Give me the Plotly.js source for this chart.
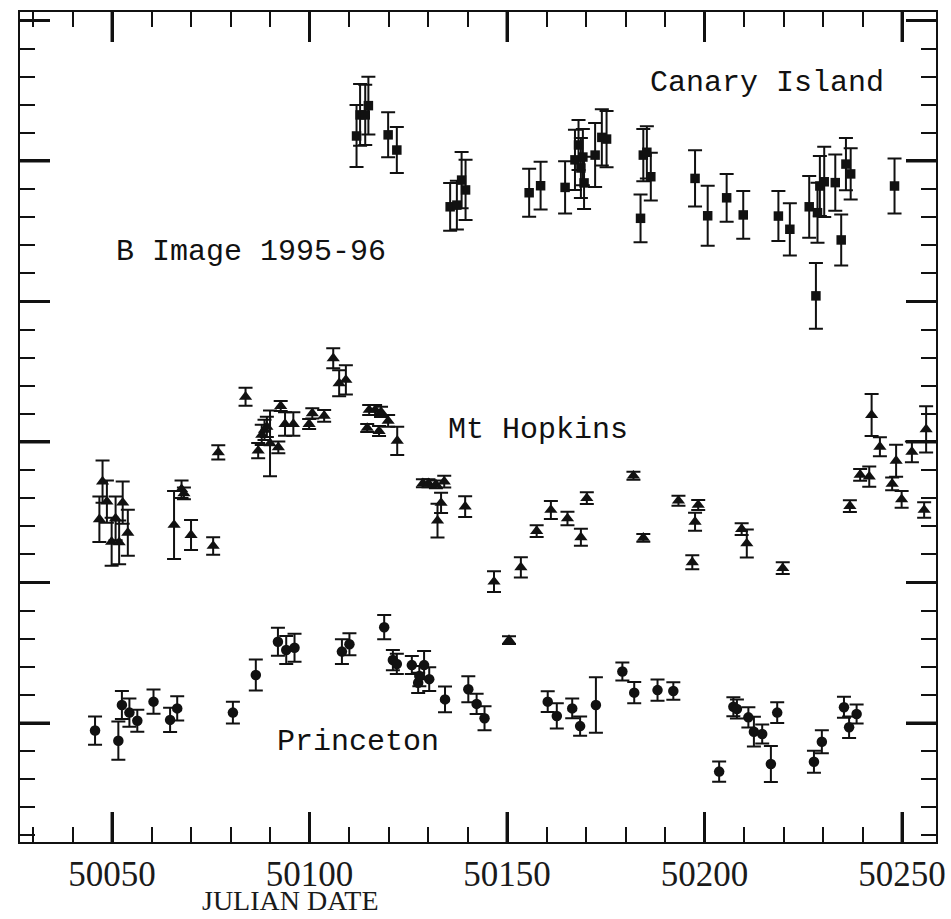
<!DOCTYPE html>
<html>
<head>
<meta charset="utf-8">
<script src="https://cdn.plot.ly/plotly-3.0.1.min.js"></script>
<style>
  html, body { margin: 0; padding: 0; background: #fff; }
  #chart { width: 951px; height: 919px; }
</style>
</head>
<body>
<div id="chart"></div>
<script>
// ---- Canary Island (squares) ----
const canaryJD = [50111.9, 50112.8, 50114.1, 50114.9, 50119.9, 50122.1, 50135.6, 50137.3, 50138.5, 50139.5,
  50155.6, 50158.5, 50164.7, 50167.2, 50168.1, 50168.7, 50169.2, 50169.5, 50172.3, 50174.0, 50175.2,
  50183.8, 50184.5, 50185.4, 50186.4, 50197.6, 50200.8, 50205.6, 50209.8, 50218.7, 50221.6,
  50226.5, 50228.2, 50228.6, 50229.2, 50230.3, 50233.1, 50234.6, 50235.8, 50237.0, 50248.1];
const canaryMag = [2.089, 2.164, 2.164, 2.197, 2.093, 2.039, 1.837, 1.843, 1.932, 1.897,
  1.887, 1.912, 1.906, 2.004, 2.057, 1.975, 2.014, 1.922, 2.021, 2.084, 2.078,
  1.796, 2.021, 2.031, 1.944, 1.938, 1.805, 1.869, 1.808, 1.804, 1.757,
  1.837, 1.520, 1.816, 1.911, 1.926, 1.923, 1.719, 1.989, 1.954, 1.911];
const canaryErr = [0.110, 0.110, 0.107, 0.103, 0.080, 0.082, 0.085, 0.087, 0.100, 0.107,
  0.085, 0.085, 0.093, 0.107, 0.089, 0.107, 0.100, 0.093, 0.114, 0.100, 0.100,
  0.085, 0.093, 0.093, 0.085, 0.100, 0.107, 0.085, 0.085, 0.089, 0.093,
  0.110, 0.117, 0.107, 0.107, 0.125, 0.100, 0.091, 0.093, 0.091, 0.098];

// ---- Mt Hopkins (triangles) ----
const hopkinsJD = [50046.8, 50047.6, 50048.7, 50049.9, 50050.9, 50051.8, 50052.7, 50054.0,
  50065.7, 50067.6, 50068.2, 50070.0, 50075.6, 50076.9, 50083.8, 50087.0, 50087.9, 50088.6, 50089.2,
  50090.0, 50092.1, 50092.7, 50093.8, 50095.9, 50099.9, 50100.7, 50103.7, 50106.0, 50107.5, 50109.2,
  50115.1, 50116.6, 50118.1, 50114.6, 50117.6, 50119.9, 50122.2, 50128.7, 50130.1, 50132.0, 50134.1,
  50133.3, 50132.4, 50139.4, 50146.7, 50150.5, 50153.5, 50157.5, 50161.1, 50165.3, 50168.7, 50170.2,
  50182.0, 50184.5, 50193.4, 50196.9, 50197.6, 50198.4, 50209.4, 50210.7, 50219.8,
  50236.8, 50239.4, 50241.7, 50242.3, 50244.4, 50247.5, 50248.5, 50249.9, 50252.5, 50255.6, 50256.1];
const hopkinsMag = [0.725, 0.859, 0.788, 0.645, 0.728, 0.643, 0.784, 0.677,
  0.705, 0.832, 0.817, 0.669, 0.630, 0.963, 1.161, 0.969, 1.025, 1.043, 1.054,
  0.995, 0.981, 1.128, 1.064, 1.064, 1.064, 1.102, 1.093, 1.298, 1.209, 1.221,
  1.114, 1.114, 1.107, 1.050, 1.039, 1.075, 1.004, 0.853, 0.853, 0.849, 0.859,
  0.783, 0.720, 0.770, 0.503, 0.295, 0.554, 0.683, 0.758, 0.728, 0.661, 0.800,
  0.880, 0.659, 0.791, 0.572, 0.716, 0.776, 0.690, 0.639, 0.551,
  0.772, 0.883, 0.877, 1.096, 0.983, 0.851, 0.933, 0.796, 0.965, 0.758, 1.045];
const hopkinsErr = [0.081, 0.075, 0.075, 0.085, 0.078, 0.078, 0.075, 0.082,
  0.121, 0.031, 0.021, 0.053, 0.031, 0.025, 0.032, 0.027, 0.036, 0.036, 0.036,
  0.117, 0.021, 0.018, 0.042, 0.042, 0.018, 0.018, 0.021, 0.036, 0.046, 0.052,
  0.018, 0.018, 0.018, 0.014, 0.018, 0.021, 0.050, 0.014, 0.014, 0.014, 0.021,
  0.036, 0.060, 0.037, 0.037, 0.014, 0.036, 0.021, 0.032, 0.024, 0.030, 0.021,
  0.014, 0.014, 0.018, 0.025, 0.032, 0.018, 0.021, 0.050, 0.021,
  0.021, 0.021, 0.036, 0.075, 0.034, 0.023, 0.057, 0.030, 0.037, 0.028, 0.082];

// ---- Princeton (circles) ----
const princetonJD = [50045.7, 50051.6, 50052.5, 50054.4, 50056.4, 50060.5, 50064.7, 50066.5,
  50080.6, 50086.4, 50092.0, 50094.1, 50096.2, 50108.2, 50110.1, 50118.9, 50121.1, 50122.1,
  50125.9, 50127.5, 50127.8, 50129.0, 50130.3, 50134.3, 50140.2, 50142.3, 50144.3,
  50160.3, 50162.6, 50166.5, 50168.5, 50172.5, 50179.2, 50182.2, 50188.1, 50192.1,
  50203.7, 50207.3, 50208.2, 50211.1, 50212.5, 50214.6, 50216.8, 50218.4,
  50227.7, 50229.7, 50235.3, 50236.6, 50238.5];
const princetonMag = [-0.027, -0.063, 0.064, 0.037, 0.008, 0.076, 0.011, 0.052,
  0.037, 0.171, 0.289, 0.260, 0.268, 0.254, 0.280, 0.341, 0.224, 0.210,
  0.206, 0.143, 0.167, 0.206, 0.156, 0.084, 0.120, 0.068, 0.017,
  0.076, 0.025, 0.052, -0.011, 0.064, 0.183, 0.108, 0.117, 0.114,
  -0.173, 0.058, 0.050, 0.020, -0.031, -0.039, -0.146, 0.037,
  -0.138, -0.067, 0.056, -0.015, 0.032];
const princetonErr = [0.050, 0.068, 0.050, 0.050, 0.039, 0.043, 0.043, 0.043,
  0.039, 0.055, 0.050, 0.050, 0.050, 0.044, 0.039, 0.043, 0.036, 0.036,
  0.032, 0.036, 0.036, 0.050, 0.042, 0.046, 0.046, 0.036, 0.043,
  0.037, 0.045, 0.035, 0.034, 0.099, 0.032, 0.038, 0.038, 0.031,
  0.036, 0.034, 0.034, 0.036, 0.053, 0.034, 0.064, 0.037,
  0.039, 0.041, 0.037, 0.038, 0.034];

const xTickVals = [50050, 50100, 50150, 50200, 50250];
const xTickText = ['50050', '50100', '50150', '50200', '50250'];
const yMajorTicks = [0, 0.5, 1.0, 1.5, 2.0, 2.5];
const seriesLabels = ['Canary Island', 'B Image 1995-96', 'Mt Hopkins', 'Princeton'];
const xTitle = 'JULIAN DATE';

const ink = '#111111';
const xRange = [50026.7, 50258.6];
const yRange = [-0.4235, 2.5302];
const majorLen = 30;

function errSpec(arr) {
  return { type: 'data', array: arr, visible: true, color: ink, thickness: 2, width: 7 };
}

const traces = [
  { x: canaryJD, y: canaryMag, mode: 'markers', type: 'scatter', name: 'Canary Island',
    marker: { symbol: 'square', size: 9.5, color: ink }, error_y: errSpec(canaryErr) },
  { x: hopkinsJD, y: hopkinsMag, mode: 'markers', type: 'scatter', name: 'Mt Hopkins',
    marker: { symbol: 'triangle-up', size: 11.5, color: ink }, error_y: errSpec(hopkinsErr) },
  { x: princetonJD, y: princetonMag, mode: 'markers', type: 'scatter', name: 'Princeton',
    marker: { symbol: 'circle', size: 10.5, color: ink }, error_y: errSpec(princetonErr) }
];

// Long major ticks on all four sides, placed through the axes' own scales
const tickLine = { color: ink, width: 3 };
const majorTickShapes = [];
xTickVals.forEach(v => {
  majorTickShapes.push({ type: 'line', xref: 'x', yref: 'paper', ysizemode: 'pixel', yanchor: 0,
    x0: v, x1: v, y0: 0, y1: majorLen, line: tickLine });
  majorTickShapes.push({ type: 'line', xref: 'x', yref: 'paper', ysizemode: 'pixel', yanchor: 1,
    x0: v, x1: v, y0: -majorLen, y1: 0, line: tickLine });
});
yMajorTicks.forEach(v => {
  majorTickShapes.push({ type: 'line', xref: 'paper', yref: 'y', xsizemode: 'pixel', xanchor: 0,
    x0: 0, x1: majorLen, y0: v, y1: v, line: tickLine });
  majorTickShapes.push({ type: 'line', xref: 'paper', yref: 'y', xsizemode: 'pixel', xanchor: 1,
    x0: -majorLen, x1: 0, y0: v, y1: v, line: tickLine });
});

const monoFont = { family: 'Liberation Mono, Courier New, monospace', size: 30, color: ink };
const serifFont = 'Liberation Serif, Times New Roman, serif';

const layout = {
  width: 951, height: 919,
  margin: { l: 20, r: 15, t: 12, b: 77 },
  paper_bgcolor: '#ffffff', plot_bgcolor: '#ffffff',
  showlegend: false,
  xaxis: {
    range: xRange,
    tickmode: 'array', tickvals: xTickVals, ticktext: xTickText,
    ticks: 'inside', ticklen: majorLen, tickwidth: 3, tickcolor: ink,
    showline: true, linecolor: ink, linewidth: 2, mirror: 'ticks',
    showgrid: false, zeroline: false,
    tickfont: { family: serifFont, size: 35, color: '#1a1a1a' },
    ticklabelstandoff: 0,
    minor: { dtick: 10, tick0: 50000, ticks: 'inside', ticklen: 15, tickwidth: 2, tickcolor: ink, showgrid: false }
  },
  yaxis: {
    range: yRange,
    tickmode: 'linear', tick0: 0, dtick: 0.5,
    ticks: 'inside', ticklen: majorLen, tickwidth: 3, tickcolor: ink,
    showticklabels: false,
    showline: true, linecolor: ink, linewidth: 2, mirror: 'ticks',
    showgrid: false, zeroline: false,
    minor: { dtick: 0.1, tick0: 0, ticks: 'inside', ticklen: 15, tickwidth: 2, tickcolor: ink, showgrid: false }
  },
  shapes: majorTickShapes,
  annotations: [
    { text: seriesLabels[0], xref: 'paper', yref: 'paper', x: 0.815, y: 0.914, showarrow: false,
      xanchor: 'center', yanchor: 'middle', font: monoFont },
    { text: seriesLabels[1], xref: 'paper', yref: 'paper', x: 0.252, y: 0.711, showarrow: false,
      xanchor: 'center', yanchor: 'middle', font: monoFont },
    { text: seriesLabels[2], xref: 'paper', yref: 'paper', x: 0.565, y: 0.496, showarrow: false,
      xanchor: 'center', yanchor: 'middle', font: monoFont },
    { text: seriesLabels[3], xref: 'paper', yref: 'paper', x: 0.369, y: 0.120, showarrow: false,
      xanchor: 'center', yanchor: 'middle', font: monoFont },
    { text: xTitle, xref: 'paper', yref: 'paper', x: 0.295, y: -0.0705, showarrow: false,
      xanchor: 'center', yanchor: 'middle',
      font: { family: serifFont, size: 28, color: '#1a1a1a' } }
  ]
};

Plotly.newPlot('chart', traces, layout, { displayModeBar: false, staticPlot: true });
</script>
</body>
</html>
